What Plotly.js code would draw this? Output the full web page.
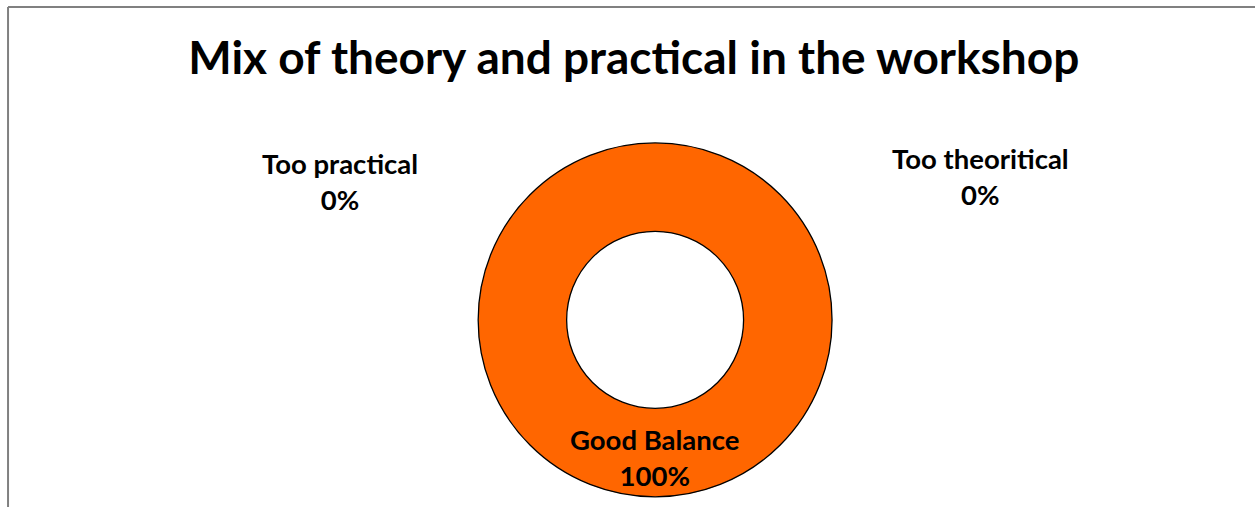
<!DOCTYPE html>
<html>
<head>
<meta charset="utf-8">
<script src="https://cdn.plot.ly/plotly-3.0.1.min.js"></script>
<style>
  html, body { margin: 0; padding: 0; background: #fff; }
  #chart { width: 1255px; height: 507px; }
</style>
</head>
<body>
<div id="chart"></div>
<script>
// ===== data =====
const categories = ["Good Balance", "Too practical", "Too theoritical"];
const values = [100, 0, 0];
const sliceColors = ["#FF6600", "#4F81BD", "#9BBB59"];

// label placement (paper coords) per category
const labelX = [0.522, 0.271, 0.781];
const labelY = [0.097, 0.642, 0.652];

const FONT = "Lato, 'Open Sans', sans-serif";

const total = values.reduce((a, b) => a + b, 0);
const annotations = categories.map((c, i) => ({
  text: `<b>${c}</b><br><b>${Math.round(values[i] / total * 100)}%</b>`,
  x: labelX[i], y: labelY[i], xref: "paper", yref: "paper",
  xanchor: "center", yanchor: "middle",
  showarrow: false, align: "center",
  font: { family: FONT, size: 27.5, color: "#000" }
}));

// zero slices would leave a stroke seam on the ring, so only draw the non-empty ones
const shown = values.map((v, i) => i).filter(i => values[i] > 0);

const trace = {
  type: "pie",
  labels: shown.map(i => categories[i]),
  values: shown.map(i => values[i]),
  hole: 0.5,
  sort: false,
  direction: "clockwise",
  textinfo: "none",
  hoverinfo: "label+percent",
  marker: { colors: shown.map(i => sliceColors[i]), line: { color: "#000", width: 1.3 } },
  domain: { x: [0.381, 0.663], y: [0.02, 0.718] },
  showlegend: false
};

const layout = {
  width: 1255, height: 507,
  margin: { l: 0, r: 0, t: 0, b: 0 },
  paper_bgcolor: "#fff",
  title: {
    text: "<b>Mix of theory and practical in the workshop</b>",
    x: 0.505, xanchor: "center", y: 0.885, yanchor: "middle",
    font: { family: FONT, size: 46, color: "#000" }
  },
  annotations: annotations,
  shapes: [
    { type: "line", xref: "paper", yref: "paper", x0: 0.0064, x1: 1, y0: 0.986, y1: 0.986,
      line: { color: "#808080", width: 2 } },
    { type: "line", xref: "paper", yref: "paper", x0: 0.0064, x1: 0.0064, y0: 0, y1: 0.986,
      line: { color: "#808080", width: 2 } }
  ]
};

Plotly.newPlot("chart", [trace], layout, { displayModeBar: false, responsive: false });
</script>
</body>
</html>
